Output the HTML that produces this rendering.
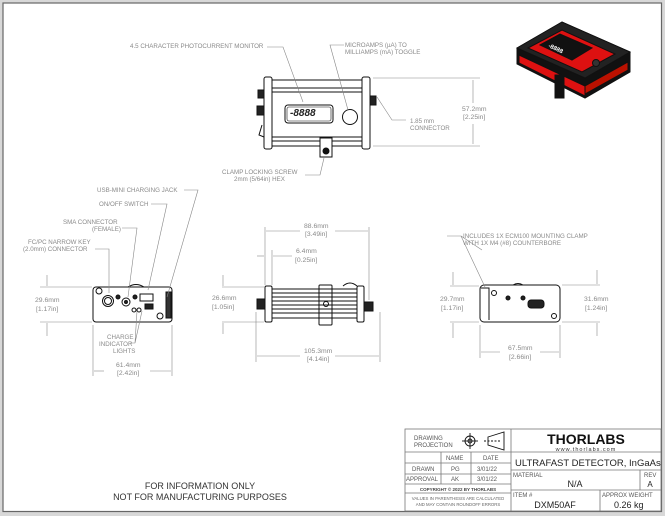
<!DOCTYPE html>
<html><head><meta charset="utf-8"><style>
html,body{margin:0;padding:0;background:#fff;}
svg{display:block;}
text{font-family:"Liberation Sans",sans-serif;}
.t{font-size:6.2px;fill:#8a8a8a;}
.d{font-size:6.8px;fill:#8a8a8a;}
.tb{font-size:6px;fill:#555;}
</style></head><body>
<svg width="665" height="516" viewBox="0 0 665 516" xmlns="http://www.w3.org/2000/svg">
<rect x="0" y="0" width="665" height="516" fill="#fff"/>
<rect x="0" y="0" width="665" height="2.5" fill="#d8d8d8"/>
<rect x="0" y="0" width="2.5" height="516" fill="#d8d8d8"/>
<rect x="662" y="0" width="3" height="516" fill="#d8d8d8"/>
<rect x="0" y="512" width="665" height="4" fill="#d8d8d8"/>
<rect x="3" y="3" width="658.5" height="508.5" fill="none" stroke="#666" stroke-width="1.2"/>

<g stroke="#111" fill="none" stroke-width="1">
<!-- TOP VIEW -->
<rect x="264" y="77" width="8" height="72" rx="2"/>
<rect x="362" y="77" width="8" height="72" rx="2"/>
<line x1="272" y1="80" x2="362" y2="80"/><line x1="272" y1="146" x2="362" y2="146"/>
<line x1="272" y1="88" x2="362" y2="88"/><line x1="272" y1="92" x2="362" y2="92"/>
<line x1="272" y1="137" x2="362" y2="137"/><line x1="272" y1="141" x2="362" y2="141"/>
<rect x="285" y="105" width="48" height="18" rx="3"/>
<rect x="287" y="107" width="44" height="14" rx="2" stroke-width="0.6"/>
<circle cx="350" cy="117" r="7.5"/>
<rect x="320" y="138" width="12" height="19" fill="#fff"/>
<circle cx="326" cy="151" r="3" fill="#111"/>
<rect x="258" y="90" width="6" height="8" fill="#222"/>
<rect x="257" y="106" width="7" height="9" fill="#222"/>
<path d="M262 125 l-3 10 l5 2"/>
<rect x="370" y="96" width="6" height="9" fill="#222"/>
</g>
<text x="290" y="116" font-size="10" font-style="italic" font-weight="bold" fill="#222" font-family="Liberation Mono">-8888</text>

<g stroke="#888" stroke-width="0.6" fill="none">
<line x1="373" y1="78" x2="480" y2="78"/><line x1="373" y1="146" x2="480" y2="146"/>
<line x1="473" y1="80" x2="473" y2="103"/><line x1="473" y1="124" x2="473" y2="144"/>
<path d="M267 47 H283 L303 102"/>
<path d="M344 45 H330 L348 110"/>
<path d="M377 97 L392 120 H406"/>
<path d="M305 175 H320 L324 158"/>
</g>
<text class="t" x="130" y="48">4.5 CHARACTER PHOTOCURRENT MONITOR</text>
<text class="t" x="345" y="47">MICROAMPS (µA) TO</text>
<text class="t" x="345" y="54">MILLIAMPS (mA) TOGGLE</text>
<text class="t" x="410" y="123">1.85 mm</text>
<text class="t" x="410" y="130">CONNECTOR</text>
<text class="d" x="462" y="111">57.2mm</text>
<text class="d" x="463" y="119">[2.25in]</text>
<text class="t" x="222" y="174">CLAMP LOCKING SCREW</text>
<text class="t" x="234" y="181">2mm (5/64in) HEX</text>

<!-- FRONT VIEW -->
<g stroke="#111" fill="none" stroke-width="1">
<rect x="93" y="287" width="79" height="35" rx="3"/>
<circle cx="99" cy="291" r="3"/>
<circle cx="108" cy="301" r="5.5"/><circle cx="108" cy="301" r="3.5"/>
<circle cx="118" cy="297" r="2" fill="#222"/>
<circle cx="126" cy="302" r="4"/><circle cx="126" cy="302" r="1.5" fill="#222"/>
<circle cx="135" cy="297" r="2" fill="#222"/>
<rect x="140" y="294" width="13" height="7"/>
<rect x="145" y="304" width="8" height="5" fill="#222"/>
<circle cx="134" cy="310" r="2"/><circle cx="139" cy="310" r="2"/>
<circle cx="160" cy="316" r="3"/>
<rect x="166" y="292" width="5" height="26" fill="#333"/>
<path d="M128 287 q8 -5 16 0"/>
</g>
<g stroke="#888" stroke-width="0.6" fill="none">
<path d="M184 190 H198 L167 297"/>
<path d="M151 204 H167 L148 290"/>
<path d="M122 228 H137 L128 297"/>
<path d="M95 249 H109 V293"/>
<path d="M135 343 L137 311 M135 343 L142 311 M130 343 H135"/>
<line x1="40" y1="287" x2="92" y2="287"/><line x1="40" y1="322" x2="92" y2="322"/>
<line x1="47" y1="275" x2="47" y2="286"/><line x1="47" y1="323" x2="47" y2="336"/>
<line x1="93" y1="325" x2="93" y2="376"/><line x1="172" y1="325" x2="172" y2="376"/>
<line x1="94" y1="371" x2="104" y2="371"/><line x1="150" y1="371" x2="171" y2="371"/>
</g>
<text class="t" x="97" y="192">USB-MINI CHARGING JACK</text>
<text class="t" x="99" y="206">ON/OFF SWITCH</text>
<text class="t" x="63" y="224">SMA CONNECTOR</text>
<text class="t" x="92" y="231">(FEMALE)</text>
<text class="t" x="28" y="244">FC/PC NARROW KEY</text>
<text class="t" x="23" y="251">(2.0mm) CONNECTOR</text>
<text class="t" x="107" y="339">CHARGE</text>
<text class="t" x="99" y="346">INDICATOR</text>
<text class="t" x="113" y="353">LIGHTS</text>
<text class="d" x="35" y="302">29.6mm</text>
<text class="d" x="36" y="311">[1.17in]</text>
<text class="d" x="116" y="367">61.4mm</text>
<text class="d" x="117" y="375">[2.42in]</text>

<!-- SIDE VIEW -->
<g stroke="#111" fill="none" stroke-width="1">
<rect x="265" y="286" width="7" height="36" rx="1.5"/>
<rect x="357" y="286" width="7" height="36" rx="1.5"/>
<rect x="319" y="285" width="13" height="40" rx="1"/>
<line x1="272" y1="289" x2="357" y2="289"/><line x1="272" y1="293" x2="357" y2="293"/>
<line x1="272" y1="297" x2="357" y2="297"/><line x1="272" y1="301" x2="357" y2="301"/>
<line x1="272" y1="305" x2="357" y2="305"/><line x1="272" y1="309" x2="357" y2="309"/>
<line x1="272" y1="313" x2="357" y2="313"/><line x1="272" y1="318" x2="357" y2="318"/>
<circle cx="326" cy="304" r="2.5"/>
<path d="M343 286 q7 -6 14 0"/>
<rect x="257" y="299" width="8" height="10" fill="#222"/>
<rect x="364" y="302" width="9" height="9" fill="#222"/>
</g>
<g stroke="#888" stroke-width="0.6" fill="none">
<line x1="265" y1="227" x2="265" y2="285"/><line x1="369" y1="227" x2="369" y2="300"/>
<line x1="266" y1="231" x2="300" y2="231"/><line x1="335" y1="231" x2="368" y2="231"/>
<line x1="272" y1="250" x2="272" y2="285"/>
<line x1="257" y1="256" x2="264" y2="256"/><line x1="273" y1="256" x2="292" y2="256"/>
<line x1="222" y1="287" x2="264" y2="287"/><line x1="222" y1="322" x2="264" y2="322"/>
<line x1="223" y1="275" x2="223" y2="286"/><line x1="223" y1="323" x2="223" y2="334"/>
<line x1="256" y1="312" x2="256" y2="362"/><line x1="380" y1="312" x2="380" y2="362"/>
<line x1="257" y1="356" x2="300" y2="356"/><line x1="335" y1="356" x2="379" y2="356"/>
</g>
<text class="d" x="304" y="228">88.6mm</text>
<text class="d" x="305" y="236">[3.49in]</text>
<text class="d" x="296" y="253">6.4mm</text>
<text class="d" x="295" y="262">[0.25in]</text>
<text class="d" x="212" y="300">26.6mm</text>
<text class="d" x="212" y="309">[1.05in]</text>
<text class="d" x="304" y="353">105.3mm</text>
<text class="d" x="307" y="361">[4.14in]</text>

<!-- RIGHT VIEW -->
<g stroke="#111" fill="none" stroke-width="1">
<rect x="480" y="285" width="80" height="37" rx="4"/>
<path d="M481 288 H489 V320"/>
<circle cx="494" cy="293" r="2.5"/>
<circle cx="508" cy="298" r="2" fill="#222"/>
<circle cx="523" cy="298" r="2" fill="#222"/>
<rect x="528" y="300" width="16" height="8" rx="3" fill="#222"/>
<circle cx="554" cy="316" r="2.5"/>
<path d="M513 285 q5 -3 10 0"/>
</g>
<g stroke="#888" stroke-width="0.6" fill="none">
<path d="M447 236 H461 L485 287"/>
<path d="M461 236 L482 250"/>
<line x1="450" y1="286" x2="479" y2="286"/><line x1="450" y1="322" x2="479" y2="322"/>
<line x1="453" y1="272" x2="453" y2="285"/><line x1="453" y1="323" x2="453" y2="338"/>
<line x1="562" y1="285" x2="600" y2="285"/><line x1="562" y1="322" x2="600" y2="322"/>
<line x1="597" y1="270" x2="597" y2="284"/><line x1="597" y1="323" x2="597" y2="336"/>
<line x1="480" y1="325" x2="480" y2="358"/><line x1="560" y1="325" x2="560" y2="358"/>
<line x1="481" y1="352" x2="500" y2="352"/><line x1="540" y1="352" x2="559" y2="352"/>
</g>
<text class="t" x="463" y="238">INCLUDES 1X ECM100 MOUNTING CLAMP</text>
<text class="t" x="463" y="245">WITH 1X M4 (#8) COUNTERBORE</text>
<text class="d" x="440" y="301">29.7mm</text>
<text class="d" x="441" y="310">[1.17in]</text>
<text class="d" x="584" y="301">31.6mm</text>
<text class="d" x="585" y="310">[1.24in]</text>
<text class="d" x="508" y="350">67.5mm</text>
<text class="d" x="509" y="359">[2.66in]</text>

<!-- PHOTO -->
<g stroke="#111" stroke-width="1">
<polygon points="517,48 562,22 630,52 630,72 585,98 517,64" fill="#111"/>
<polygon points="517,48 562,22 630,52 585,78" fill="#222"/>
<polygon points="519,55 585,86 585,96 519,63" fill="#d11"/>
<polygon points="585,86 628,62 628,70 585,94" fill="#b10"/>
<polygon points="528,48 562,30 615,54 582,72" fill="#d11"/>
<polygon points="540,45 560,34 592,48 572,60" fill="#111"/>
<circle cx="596" cy="63" r="3.5" fill="#333"/>
<rect x="555" y="75" width="9" height="23" fill="#111"/>
</g>
<text x="548" y="47" font-size="6" fill="#fff" font-weight="bold" transform="rotate(25 548 47)">-8888</text>

<text x="200" y="489" font-size="9" fill="#333" text-anchor="middle">FOR INFORMATION ONLY</text>
<text x="200" y="500" font-size="9" fill="#333" text-anchor="middle">NOT FOR MANUFACTURING PURPOSES</text>

<!-- TITLE BLOCK -->
<g stroke="#777" stroke-width="0.8" fill="none">
<rect x="405" y="429" width="256" height="82"/>
<line x1="511" y1="429" x2="511" y2="511"/>
<line x1="405" y1="452" x2="511" y2="452"/>
<line x1="405" y1="463" x2="511" y2="463"/>
<line x1="405" y1="474" x2="511" y2="474"/>
<line x1="405" y1="484" x2="511" y2="484"/>
<line x1="405" y1="493" x2="511" y2="493"/>
<line x1="441" y1="452" x2="441" y2="484"/>
<line x1="471" y1="452" x2="471" y2="484"/>
<line x1="511" y1="452" x2="661" y2="452"/>
<line x1="511" y1="470" x2="661" y2="470"/>
<line x1="511" y1="490" x2="661" y2="490"/>
<line x1="640" y1="470" x2="640" y2="490"/>
<line x1="600" y1="490" x2="600" y2="511"/>
</g>
<g stroke="#111" stroke-width="0.9" fill="none">
<circle cx="470" cy="441" r="5"/><circle cx="470" cy="441" r="2"/>
<line x1="462" y1="441" x2="478" y2="441"/><line x1="470" y1="433" x2="470" y2="449"/>
<path d="M488 437 L504 432 V450 L488 445 Z"/><line x1="484" y1="441" x2="500" y2="441" stroke-dasharray="2,1.5"/>
</g>
<text class="tb" x="414" y="440">DRAWING</text>
<text class="tb" x="414" y="447">PROJECTION</text>
<text class="tb" x="446" y="460">NAME</text>
<text class="tb" x="483" y="460">DATE</text>
<text class="tb" x="412" y="471" font-size="5.5">DRAWN</text>
<text class="tb" x="451" y="471">PG</text>
<text class="tb" x="477" y="471">3/01/22</text>
<text class="tb" x="406" y="481" font-size="5.5">APPROVAL</text>
<text class="tb" x="451" y="481">AK</text>
<text class="tb" x="477" y="481">3/01/22</text>
<text x="458" y="491" font-size="4.5" font-weight="bold" fill="#444" text-anchor="middle">COPYRIGHT © 2022 BY THORLABS</text>
<text x="458" y="500" font-size="4.3" fill="#666" text-anchor="middle">VALUES IN PARENTHESIS ARE CALCULATED</text>
<text x="458" y="506" font-size="4.3" fill="#666" text-anchor="middle">AND MAY CONTAIN ROUNDOFF ERRORS</text>
<text x="586" y="444" font-size="14" font-weight="bold" fill="#111" text-anchor="middle">THORLABS</text>
<text x="586" y="451" font-size="5.5" fill="#333" text-anchor="middle" letter-spacing="1">www.thorlabs.com</text>
<text x="515" y="466" font-size="9.5" fill="#222">ULTRAFAST DETECTOR, InGaAs</text>
<text class="tb" x="513" y="477">MATERIAL</text>
<text x="575" y="487" font-size="9" fill="#222" text-anchor="middle">N/A</text>
<text class="tb" x="644" y="477">REV</text>
<text x="650" y="487" font-size="8" fill="#222" text-anchor="middle">A</text>
<text class="tb" x="513" y="497">ITEM #</text>
<text x="555" y="508" font-size="9" fill="#222" text-anchor="middle">DXM50AF</text>
<text class="tb" x="602" y="497">APPROX WEIGHT</text>
<text x="614" y="508" font-size="9" fill="#222">0.26  kg</text>
</svg>
</body></html>
